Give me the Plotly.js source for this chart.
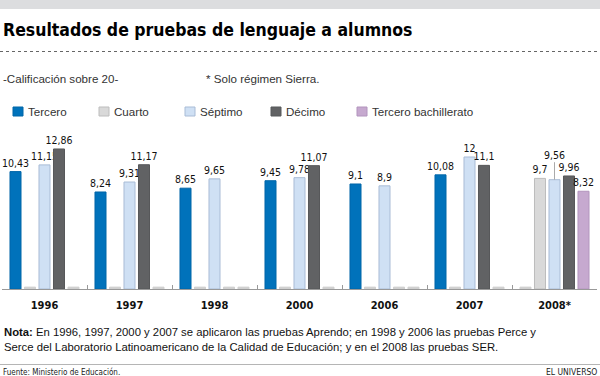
<!DOCTYPE html>
<html>
<head>
<meta charset="utf-8">
<script src="https://cdn.plot.ly/plotly-3.0.1.min.js"></script>
<style>
  html, body { margin: 0; padding: 0; background: #fff; }
  #chart { width: 600px; height: 376px; }
</style>
</head>
<body>
<div id="chart"></div>
<script>
// ---- Data ----
const categories = ["1996", "1997", "1998", "2000", "2006", "2007", "2008*"];
const seriesNames = ["Tercero", "Cuarto", "Séptimo", "Décimo", "Tercero bachillerato"];
const tercero      = [10.43, 8.24, 8.65, 9.45, 9.1, 10.08, null];
const cuarto       = [null, null, null, null, null, null, 9.7];
const septimo      = [11.15, 9.31, 9.65, 9.78, 8.9, 12, 9.56];
const decimo       = [12.86, 11.17, null, 11.07, null, 11.1, 9.96];
const terceroBach  = [null, null, null, null, null, null, 8.32];

// ---- Styling ----
const seriesValues = [tercero, cuarto, septimo, decimo, terceroBach];
const fillColors = ["#0072bb", "#d9d9d9", "#cfe0f4", "#616264", "#c6a9cf"];
const lineColors = ["#0066a8", "#bdbdbd", "#a9bcd6", "#57585a", "#b294bd"];
const stubColor = "#cfcfcf";
const NARROW = "'DejaVu Sans Condensed', 'Liberation Sans Narrow', sans-serif";
const SANS = "'Liberation Sans', Arial, sans-serif";
const Y_MIN = -2.18, Y_MAX = 13.61, STUB = 0.2;
const raisedLabel = {series: 2, category: "2008*"}; // label drawn with a leader line

const fmt = v => String(v).replace(".", ",");

const traces = seriesValues.map((vals, si) => ({
  type: "bar",
  name: seriesNames[si],
  x: categories,
  y: vals.map(v => v === null ? STUB : v - Y_MIN),
  base: Y_MIN,
  text: vals.map((v, ci) => (v === null || (si === raisedLabel.series && categories[ci] === raisedLabel.category)) ? "" : fmt(v)),
  textposition: "outside",
  constraintext: "none",
  cliponaxis: false,
  textfont: {family: NARROW, size: 10.5, color: "#111"},
  marker: {
    color: vals.map(v => v === null ? stubColor : fillColors[si]),
    line: {color: vals.map(v => v === null ? stubColor : lineColors[si]), width: 1}
  },
  hoverinfo: "skip",
  showlegend: false
}));

const annotations = [];
const shapes = [];

// Paper-pixel helpers
const W = 600, H = 376;
const M = {l: 2, r: 3, t: 142, b: 87};
const pw = W - M.l - M.r, ph = H - M.t - M.b;
const px = x => (x - M.l) / pw;
const py = y => (H - M.b - y) / ph;
const txt = (x, y, text, font, xanchor) => ({xref: "paper", yref: "paper", x: px(x), y: py(y),
  xanchor: xanchor || "left", yanchor: "middle", align: "left", text: text, showarrow: false, font: font});

// Title & header texts
annotations.push(txt(1, 30, "<b>Resultados de pruebas de lenguaje a alumnos</b>", {family: NARROW, size: 17.5, color: "#000"}));
annotations.push(txt(1, 78, "-Calificación sobre 20-", {family: SANS, size: 11.6, color: "#333"}));
annotations.push(txt(204, 78, "* Solo régimen Sierra.", {family: SANS, size: 11.6, color: "#333"}));

// Custom legend built from series names/colors
seriesNames.forEach((n, i) => {
  const x0 = 13 + 86 * i;
  shapes.push({type: "rect", xref: "paper", yref: "paper", x0: px(x0), x1: px(x0 + 10), y0: py(107), y1: py(116),
    fillcolor: fillColors[i], line: {color: lineColors[i], width: 1}});
  annotations.push(txt(x0 + 13, 111.5, n, {family: SANS, size: 11.6, color: "#333"}));
});

// Raised label with leader line
const rIdx = categories.indexOf(raisedLabel.category);
const rVal = seriesValues[raisedLabel.series][rIdx];
annotations.push({x: raisedLabel.category, y: rVal, xref: "x", yref: "y", text: fmt(rVal),
  showarrow: true, arrowhead: 0, arrowwidth: 1, arrowcolor: "#aaaaaa", ax: 0, ay: -25, standoff: 0,
  font: {family: NARROW, size: 10.5, color: "#111"}});

// Note and footer
annotations.push(txt(2, 339.5,
  "<b>Nota:</b> En 1996, 1997, 2000 y 2007 se aplicaron las pruebas Aprendo; en 1998 y 2006 las pruebas Perce y<br>Serce del Laboratorio Latinoamericano de la Calidad de Educación; y en el 2008 las pruebas SER.",
  {family: SANS, size: 11.3, color: "#111"}));
annotations.push(txt(1, 371.5, "Fuente: Ministerio de Educación.", {family: NARROW, size: 8, color: "#222"}));
annotations.push(txt(599, 371.5, "EL UNIVERSO", {family: NARROW, size: 8.5, color: "#222"}, "right"));

// Decorative lines
shapes.push({type: "rect", xref: "paper", yref: "paper", x0: px(0), x1: px(600), y0: py(0), y1: py(9),
  fillcolor: "#dcdddf", line: {width: 0}});
shapes.push({type: "line", xref: "paper", yref: "paper", x0: px(0), x1: px(600), y0: py(51.5), y1: py(51.5),
  line: {color: "#666", width: 1, dash: "dot"}});
shapes.push({type: "line", xref: "paper", yref: "paper", x0: px(0), x1: px(600), y0: py(364.5), y1: py(364.5),
  line: {color: "#b5b5b5", width: 1}});

const layout = {
  width: W, height: H,
  margin: M,
  paper_bgcolor: "#fff", plot_bgcolor: "#fff",
  barmode: "group", bargap: 0.147, bargroupgap: 0.24,
  showlegend: false,
  xaxis: {
    type: "category", categoryarray: categories, tickson: "boundaries",
    ticks: "inside", ticklen: 4, tickcolor: "#999", tickwidth: 1,
    showline: true, linecolor: "#999", linewidth: 1,
    showgrid: false, zeroline: false, fixedrange: true,
    ticklabelstandoff: 6,
    tickfont: {family: NARROW, size: 11, color: "#111", weight: "bold"}
  },
  yaxis: {range: [Y_MIN, Y_MAX], visible: false, fixedrange: true},
  annotations: annotations,
  shapes: shapes
};

Plotly.newPlot("chart", traces, layout, {staticPlot: true, displayModeBar: false});
</script>
</body>
</html>
